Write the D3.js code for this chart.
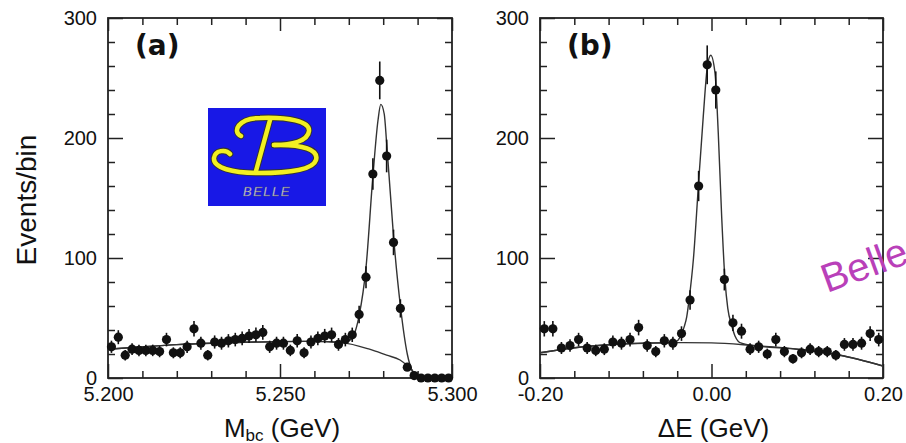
<!DOCTYPE html>
<html>
<head>
<meta charset="utf-8">
<script src="https://cdn.jsdelivr.net/npm/d3@7"></script>
<style>
  body { margin: 0; background: #fff; }
  svg { display: block; font-family: "Liberation Sans", Arial, sans-serif; }
</style>
</head>
<body>
<script>
// ---- panel (a): Mbc, 2 MeV bins ----
const mbcCenters = [5.201, 5.203, 5.205, 5.207, 5.209, 5.211, 5.213, 5.215, 5.217, 5.219,
  5.221, 5.223, 5.225, 5.227, 5.229, 5.231, 5.233, 5.235, 5.237, 5.239,
  5.241, 5.243, 5.245, 5.247, 5.249, 5.251, 5.253, 5.255, 5.257, 5.259,
  5.261, 5.263, 5.265, 5.267, 5.269, 5.271, 5.273, 5.275, 5.277, 5.279,
  5.281, 5.283, 5.285, 5.287, 5.289, 5.291, 5.293, 5.295, 5.297, 5.299];
const mbcCounts = [26, 34, 19, 24, 23, 23, 23, 22, 32, 21,
  21, 26, 41, 29, 19, 30, 29, 31, 32, 33,
  35, 36, 38, 26, 29, 29, 23, 31, 21, 30,
  33, 35, 36, 28, 32, 36, 53, 84, 170, 248,
  185, 113, 58, 9, 2, 0, 0, 0, 0, 0];
// fit curves
const mbcFitX = [5.200, 5.210, 5.220, 5.230, 5.240, 5.250, 5.260, 5.268, 5.2700, 5.2715, 5.273,
  5.275, 5.277, 5.2785, 5.2793, 5.2803, 5.281, 5.283, 5.285, 5.287, 5.2887, 5.2897, 5.300];
const mbcFitY = [24, 26, 27.8, 29, 29.8, 30.3, 30.5, 29.8, 31, 36, 52,
  92, 168, 215, 228, 220, 196, 118, 60, 20, 4, 0, 0];
const mbcBgX = [5.200, 5.210, 5.220, 5.230, 5.240, 5.250, 5.260, 5.268, 5.276, 5.281, 5.2849, 5.2873, 5.2888, 5.2895, 5.300];
const mbcBgY = [24, 26, 27.8, 29, 29.8, 30.3, 30.5, 29.5, 24, 19, 15, 9.5, 5, 0, 0];

// ---- panel (b): Delta E, 10 MeV bins ----
const deCenters = [-0.195, -0.185, -0.175, -0.165, -0.155, -0.145, -0.135, -0.125, -0.115, -0.105,
  -0.095, -0.085, -0.075, -0.065, -0.055, -0.045, -0.035, -0.025, -0.015, -0.005,
  0.005, 0.015, 0.025, 0.035, 0.045, 0.055, 0.065, 0.075, 0.085, 0.095,
  0.105, 0.115, 0.125, 0.135, 0.145, 0.155, 0.165, 0.175, 0.185, 0.195];
const deCounts = [41, 41, 25, 27, 32, 25, 23, 24, 30, 29,
  32, 42, 27, 22, 31, 29, 37, 65, 160, 261,
  240, 82, 46, 39, 24, 26, 20, 32, 22, 16,
  21, 24, 22, 22, 19, 28, 28, 29, 37, 32];
const deFitX = [-0.200, -0.150, -0.100, -0.050, -0.040, -0.0348, -0.0317, -0.0289, -0.0262, -0.021,
  -0.0154, -0.0096, -0.0049, -0.0009, 0.0041, 0.0079, 0.0119, 0.0157, 0.019, 0.0235,
  0.0274, 0.0313, 0.036, 0.050, 0.100, 0.150, 0.200];
const deFitY = [21, 26, 28.5, 29.5, 31, 37, 43, 51, 65, 100,
  159, 218, 259, 269, 254, 204, 134, 82, 58, 44,
  35, 30.5, 28.8, 27, 24, 19, 10];
const deBgX = [-0.20, -0.15, -0.10, -0.05, 0.00, 0.05, 0.10, 0.15, 0.20];
const deBgY = [21, 26, 28.5, 29.5, 29.3, 27, 24, 19, 10];

// ticks
const yMajor = [0, 100, 200, 300];
const yMinor = [20, 40, 60, 80, 120, 140, 160, 180, 220, 240, 260, 280];
const mbcMajor = [5.200, 5.250, 5.300];
const mbcMinor = [5.210, 5.220, 5.230, 5.240, 5.260, 5.270, 5.280, 5.290];
const deMajor = [-0.20, 0.00, 0.20];
const deMinor = [-0.16, -0.12, -0.08, -0.04, 0.04, 0.08, 0.12, 0.16];

const W = 906, H = 443;
const plotTop = 18, plotBottom = 378;

const svg = d3.select("body").append("svg").attr("width", W).attr("height", H);

function drawPanel(p) {
  const x = d3.scaleLinear().domain(p.domain).range([p.left, p.right]);
  const y = d3.scaleLinear().domain([0, 300]).range([plotBottom, plotTop]);
  const g = svg.append("g");

  const clipId = "clip-" + p.id;
  svg.append("clipPath").attr("id", clipId).append("rect")
    .attr("x", p.left).attr("y", plotTop).attr("width", p.right - p.left).attr("height", plotBottom - plotTop);

  // axes, ticks pointing inward
  const axes = [
    [d3.axisBottom(x).tickValues(p.minor).tickSize(-7).tickFormat(""), 0, plotBottom],
    [d3.axisBottom(x).tickValues(p.major).tickSize(-14).tickPadding(9).tickFormat(p.fmt), 0, plotBottom],
    [d3.axisTop(x).tickValues(p.minor).tickSize(-7).tickFormat(""), 0, plotTop],
    [d3.axisTop(x).tickValues(p.major).tickSize(-13).tickFormat(""), 0, plotTop],
    [d3.axisLeft(y).tickValues(yMinor).tickSize(-7).tickFormat(""), p.left, 0],
    [d3.axisLeft(y).tickValues(yMajor).tickSize(-15).tickPadding(11).tickFormat(d3.format("d")), p.left, 0],
    [d3.axisRight(y).tickValues(yMinor).tickSize(-7).tickFormat(""), p.right, 0],
    [d3.axisRight(y).tickValues(yMajor).tickSize(-15).tickFormat(""), p.right, 0]
  ];
  axes.forEach(a => {
    const ag = g.append("g").attr("transform", "translate(" + a[1] + "," + a[2] + ")").call(a[0]);
    ag.select(".domain").remove();
    ag.selectAll("line").attr("stroke", "#222").attr("stroke-width", 1.5);
    ag.selectAll("text").attr("fill", "#111").attr("font-size", 20)
      .attr("font-family", "'Liberation Sans', Arial, sans-serif");
  });

  // frame
  g.append("rect").attr("x", p.left).attr("y", plotTop)
    .attr("width", p.right - p.left).attr("height", plotBottom - plotTop)
    .attr("fill", "none").attr("stroke", "#222").attr("stroke-width", 1.8);

  // fit curves
  const line = d3.line().x(d => x(d[0])).y(d => y(d[1])).curve(d3.curveMonotoneX);
  g.append("path").datum(d3.zip(p.bgX, p.bgY)).attr("d", line)
    .attr("clip-path", "url(#" + clipId + ")")
    .attr("fill", "none").attr("stroke", "#333").attr("stroke-width", 1.4);
  g.append("path").datum(d3.zip(p.fitX, p.fitY)).attr("d", line)
    .attr("clip-path", "url(#" + clipId + ")")
    .attr("fill", "none").attr("stroke", "#333").attr("stroke-width", 1.4);

  // data points with sqrt(N) errors
  const pts = d3.zip(p.centers, p.counts);
  g.selectAll(".err").data(pts.filter(d => d[1] > 0)).enter().append("line")
    .attr("x1", d => x(d[0])).attr("x2", d => x(d[0]))
    .attr("y1", d => y(d[1] + Math.sqrt(d[1]))).attr("y2", d => y(Math.max(0, d[1] - Math.sqrt(d[1]))))
    .attr("stroke", "#111").attr("stroke-width", 1.6);
  g.selectAll(".dot").data(pts).enter().append("circle")
    .attr("cx", d => x(d[0])).attr("cy", d => y(d[1])).attr("r", 4.6).attr("fill", "#111");

  // panel tag
  g.append("text").attr("x", p.left + 27).attr("y", 55)
    .attr("font-family", "'DejaVu Sans', sans-serif").attr("font-weight", "bold")
    .attr("font-size", 28).attr("fill", "#111").text(p.tag);

  // x title
  const t = g.append("text").attr("x", (p.left + p.right) / 2 + 2).attr("y", 437)
    .attr("text-anchor", "middle").attr("font-size", 26).attr("fill", "#111");
  p.title(t);
}

drawPanel({
  id: "a", left: 108, right: 452, domain: [5.2, 5.3],
  major: mbcMajor, minor: mbcMinor, fmt: d => d.toFixed(3),
  centers: mbcCenters, counts: mbcCounts,
  fitX: mbcFitX, fitY: mbcFitY, bgX: mbcBgX, bgY: mbcBgY, tag: "(a)",
  title: t => {
    t.append("tspan").text("M");
    t.append("tspan").attr("font-size", 17).attr("dy", 4).text("bc");
    t.append("tspan").attr("dy", -4).text(" (GeV)");
  }
});

drawPanel({
  id: "b", left: 540, right: 883, domain: [-0.2, 0.2],
  major: deMajor, minor: deMinor, fmt: d => d.toFixed(2),
  centers: deCenters, counts: deCounts,
  fitX: deFitX, fitY: deFitY, bgX: deBgX, bgY: deBgY, tag: "(b)",
  title: t => t.text("\u0394E (GeV)")
});

// y title
svg.append("text").attr("transform", "translate(36,200) rotate(-90)")
  .attr("text-anchor", "middle").attr("font-size", 28).attr("fill", "#111").text("Events/bin");

// Belle logo
const logo = svg.append("g").attr("transform", "translate(208,108)");
logo.append("rect").attr("width", 118).attr("height", 98).attr("fill", "#1818e6");
const bPaths = [
  "M 33,28 C 24,24 30,10 52,10 C 80,9 102,13 101,23 C 100,33 84,37 66,37",
  "M 66,37 C 95,36 111,42 108,52 C 105,62 80,65 50,65 C 25,65 5,60 6,50 C 7,42 18,41 22,46",
  "M 62,12 L 48,63"
];
bPaths.forEach(d => logo.append("path").attr("d", d).attr("fill", "none")
  .attr("stroke", "#333").attr("stroke-width", 6.5).attr("stroke-linecap", "round"));
bPaths.forEach(d => logo.append("path").attr("d", d).attr("fill", "none")
  .attr("stroke", "#f2f022").attr("stroke-width", 4.5).attr("stroke-linecap", "round"));
logo.append("text").attr("x", 59).attr("y", 88).attr("text-anchor", "middle")
  .attr("font-size", 13).attr("font-style", "italic").attr("letter-spacing", 1.5)
  .attr("fill", "#d4d4ea").attr("stroke", "#556").attr("stroke-width", 0.3).text("BELLE");

// watermark, runs off the right edge as in the source image
svg.append("text").attr("transform", "translate(827,293) rotate(-20)")
  .attr("font-size", 40).attr("fill", "#b940b9").text("Belle");
</script>
</body>
</html>
